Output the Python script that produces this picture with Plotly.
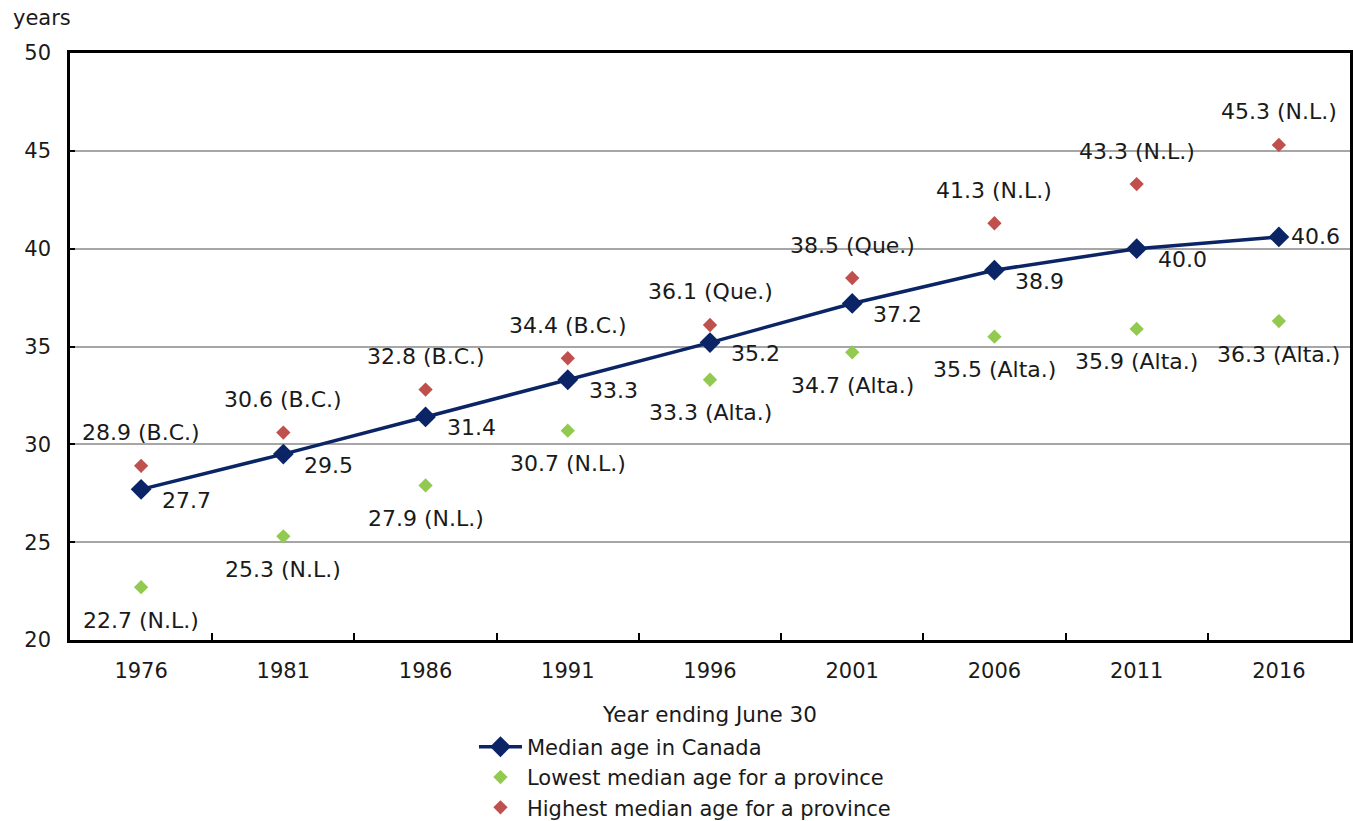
import plotly.graph_objects as go

years = ["1976", "1981", "1986", "1991", "1996", "2001", "2006", "2011", "2016"]
canada = [27.7, 29.5, 31.4, 33.3, 35.2, 37.2, 38.9, 40.0, 40.6]
lowest = [22.7, 25.3, 27.9, 30.7, 33.3, 34.7, 35.5, 35.9, 36.3]
lowest_prov = ["N.L.", "N.L.", "N.L.", "N.L.", "Alta.", "Alta.", "Alta.", "Alta.", "Alta."]
highest = [28.9, 30.6, 32.8, 34.4, 36.1, 38.5, 41.3, 43.3, 45.3]
highest_prov = ["B.C.", "B.C.", "B.C.", "B.C.", "Que.", "Que.", "N.L.", "N.L.", "N.L."]
y_ticks = [20, 25, 30, 35, 40, 45, 50]

NAVY = "#0a2466"
GREEN = "#92c94f"
RED = "#c0504d"
FONT = "DejaVu Sans"
TXT = "#1a1a1a"
LBL = 22

fig = go.Figure()
fig.add_trace(go.Scatter(
    x=years, y=canada, mode="lines+markers", name="Median age in Canada",
    line=dict(color=NAVY, width=3.5),
    marker=dict(symbol="diamond", size=16, color=NAVY),
))
fig.add_trace(go.Scatter(
    x=years, y=lowest, mode="markers", name="Lowest median age for a province",
    marker=dict(symbol="diamond", size=11, color=GREEN),
))
fig.add_trace(go.Scatter(
    x=years, y=highest, mode="markers", name="Highest median age for a province",
    marker=dict(symbol="diamond", size=11, color=RED),
))

annotations = []
n = len(years)
for i, v in enumerate(canada):
    last = i == n - 1
    annotations.append(dict(
        x=i, y=v, xref="x", yref="y", text=f"{v:.1f}", showarrow=False,
        xanchor="left", yanchor="middle",
        xshift=10 if last else 19, yshift=0 if last else -11,
        font=dict(family=FONT, size=LBL, color=TXT),
    ))
for i, (v, p) in enumerate(zip(lowest, lowest_prov)):
    annotations.append(dict(
        x=i, y=v, xref="x", yref="y", text=f"{v:.1f} ({p})", showarrow=False,
        xanchor="center", yanchor="middle", yshift=-33,
        font=dict(family=FONT, size=LBL, color=TXT),
    ))
for i, (v, p) in enumerate(zip(highest, highest_prov)):
    annotations.append(dict(
        x=i, y=v, xref="x", yref="y", text=f"{v:.1f} ({p})", showarrow=False,
        xanchor="center", yanchor="middle", yshift=33,
        font=dict(family=FONT, size=LBL, color=TXT),
    ))
annotations.append(dict(
    x=0, y=1, xref="paper", yref="paper", text="years", showarrow=False,
    xanchor="left", yanchor="middle", xshift=-59, yshift=35,
    font=dict(family=FONT, size=21, color=TXT),
))

fig.update_layout(
    width=1353, height=821,
    margin=dict(l=70, r=3, t=53, b=181),
    paper_bgcolor="white", plot_bgcolor="white",
    font=dict(family=FONT, size=21, color=TXT),
    showlegend=True,
    legend=dict(
        xref="paper", yref="container",
        x=0.3156, y=0.115, xanchor="left", yanchor="top",
        orientation="v", font=dict(family=FONT, size=21, color=TXT),
        bgcolor="rgba(0,0,0,0)", itemwidth=43, tracegroupgap=0,
    ),
    annotations=annotations,
    xaxis=dict(
        type="category", categoryorder="array", categoryarray=years,
        range=[-0.5, n - 0.5], autorange=False, automargin=False,
        showline=True, linecolor="black", linewidth=2.5, mirror=True,
        ticks="inside", tickson="boundaries", ticklen=7, tickwidth=2, tickcolor="black",
        showgrid=False, tickangle=0,
        tickfont=dict(family=FONT, size=21, color=TXT),
        ticklabelstandoff=10,
        title=dict(text="Year ending June 30", font=dict(family=FONT, size=21.5, color=TXT), standoff=25),
    ),
    yaxis=dict(
        range=[20, 50], tickvals=y_ticks, autorange=False, automargin=False,
        showline=True, linecolor="black", linewidth=2.5, mirror=True,
        ticks="inside", ticklen=5, tickwidth=2, tickcolor="black",
        showgrid=True, gridcolor="#a6a6a6", gridwidth=1.5,
        zeroline=False,
        tickfont=dict(family=FONT, size=21, color=TXT),
        ticklabelstandoff=12,
    ),
)

fig.write_html(
    "out.html",
    config={"displayModeBar": False},
    post_script="document.body.style.margin='0';",
)
